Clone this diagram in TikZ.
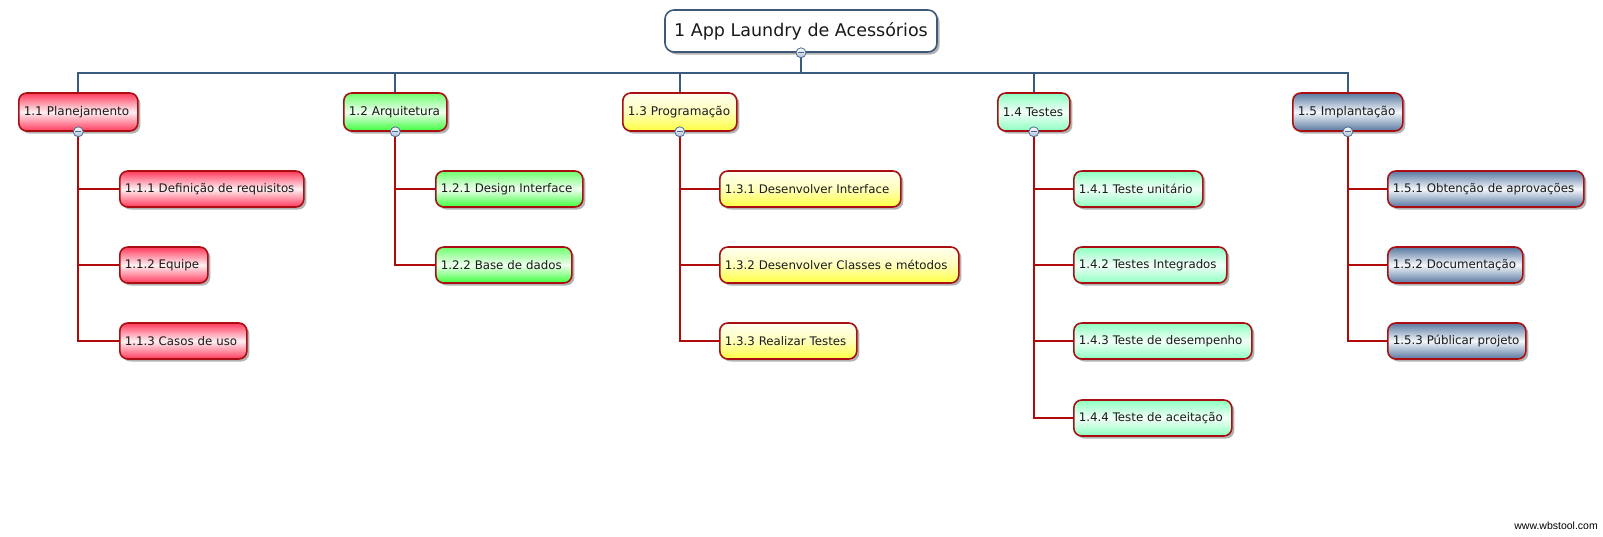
\documentclass[tikz,border=0pt]{standalone}
\usepackage{fontspec}
\setmainfont{DejaVu Sans}
\newfontfamily\wmfont{Liberation Sans}
\usetikzlibrary{shadows}
\definecolor{bord}{HTML}{A80E12}
\definecolor{rootb}{HTML}{3E5878}
\definecolor{busc}{HTML}{3B5A80}
\definecolor{linkc}{HTML}{B00A0A}
\definecolor{togb}{HTML}{4A6A90}
\definecolor{togc}{HTML}{A8BCD8}
\definecolor{txt}{HTML}{1A1A1A}
\definecolor{cR}{HTML}{FF3A5C}
\definecolor{cRm}{HTML}{FFF0F2}
\definecolor{cG}{HTML}{3CFF3C}
\definecolor{cGm}{HTML}{EFFFEF}
\definecolor{cY}{HTML}{FFFF40}
\definecolor{cYm}{HTML}{FFFFF0}
\definecolor{cM}{HTML}{8CFFC0}
\definecolor{cMm}{HTML}{F2FFF8}
\definecolor{cB}{HTML}{5878A0}
\definecolor{cBm}{HTML}{F4F7FB}
\tikzset{
  x=1pt, y=-1pt,
  basebox/.style={draw=bord, line width=1.6pt, rounded corners=8pt, anchor=west,
    inner xsep=5pt, inner ysep=0pt, align=left, text=txt,
    drop shadow={shadow xshift=2.5pt, shadow yshift=-2.5pt, opacity=0.3, fill=black}},
  lvone/.style={basebox, minimum height=38pt, font=\fontsize{12}{14}\selectfont},
  lvtwo/.style={basebox, minimum height=36pt, font=\fontsize{11.8}{14}\selectfont},
  rootbox/.style={draw=rootb, line width=1.6pt, rounded corners=9pt, fill=white,
    minimum width=272pt, minimum height=42pt, inner sep=0pt, text=txt,
    font=\fontsize{17.5}{20}\selectfont,
    drop shadow={shadow xshift=2.5pt, shadow yshift=-2.5pt, opacity=0.3, fill=black}},
  fillR/.style={top color=cR, bottom color=cR, middle color=cRm},
  fillG/.style={top color=cG!75!white, bottom color=cG, middle color=cGm},
  fillY/.style={top color=cYm, bottom color=cY, middle color=cYm!70!cY},
  fillM/.style={top color=cM, bottom color=cM, middle color=cMm},
  fillB/.style={top color=cB, bottom color=cB, middle color=cBm},
  bus/.style={draw=busc, line width=1.8pt},
  link/.style={draw=linkc, line width=1.8pt},
  tog/.style={circle, draw=togb, line width=0.8pt, inner sep=0pt, minimum size=10pt,
    top color=white, bottom color=togc,
    path picture={\draw[togb, line width=1.1pt]
      ([xshift=-3pt]path picture bounding box.center) --
      ([xshift=3pt]path picture bounding box.center);}},
}
\begin{document}
\begin{tikzpicture}
\useasboundingbox (0,0) rectangle (1603,536);
% root
\node[rootbox] (root) at (801,31) {1 App Laundry de Acessórios};
% level 1
\node[lvone, fillR, text width=109pt] (a) at (18,112) {1.1 Planejamento};
\node[lvone, fillG, text width=93pt]  (b) at (343,112) {1.2 Arquitetura};
\node[lvone, fillY, text width=104pt] (c) at (622,112) {1.3 Programação};
\node[lvone, fillM, text width=62pt]  (d) at (997,112) {1.4 Testes};
\node[lvone, fillB, text width=100pt] (e) at (1292,112) {1.5 Implantação};
% level 2
\node[lvtwo, fillR, text width=174pt] (a1) at (119,189) {1.1.1 Definição de requisitos};
\node[lvtwo, fillR, text width=78pt]  (a2) at (119,265) {1.1.2 Equipe};
\node[lvtwo, fillR, text width=117pt] (a3) at (119,341) {1.1.3 Casos de uso};
\node[lvtwo, fillG, text width=137pt] (b1) at (435,189) {1.2.1 Design Interface};
\node[lvtwo, fillG, text width=126pt] (b2) at (435,265) {1.2.2 Base de dados};
\node[lvtwo, fillY, text width=171pt] (c1) at (719,189) {1.3.1 Desenvolver Interface};
\node[lvtwo, fillY, text width=229pt] (c2) at (719,265) {1.3.2 Desenvolver Classes e métodos};
\node[lvtwo, fillY, text width=127pt] (c3) at (719,341) {1.3.3 Realizar Testes};
\node[lvtwo, fillM, text width=119pt] (d1) at (1073,189) {1.4.1 Teste unitário};
\node[lvtwo, fillM, text width=143pt] (d2) at (1073,265) {1.4.2 Testes Integrados};
\node[lvtwo, fillM, text width=168pt] (d3) at (1073,341) {1.4.3 Teste de desempenho};
\node[lvtwo, fillM, text width=148pt] (d4) at (1073,418) {1.4.4 Teste de aceitação};
\node[lvtwo, fillB, text width=186pt] (e1) at (1387,189) {1.5.1 Obtenção de aprovações};
\node[lvtwo, fillB, text width=125pt] (e2) at (1387,265) {1.5.2 Documentação};
\node[lvtwo, fillB, text width=128pt] (e3) at (1387,341) {1.5.3 Públicar projeto};
% connectors
\foreach \n in {a,b,c,d,e}
  \draw[bus] (root.south) -- ++(0,20) -| (\n.north);
\foreach \p/\cs in {a/{a1,a2,a3}, b/{b1,b2}, c/{c1,c2,c3}, d/{d1,d2,d3,d4}, e/{e1,e2,e3}}
  \foreach \ch in \cs
    \draw[link] (\p.south) |- (\ch.west);
% toggles
\node[tog] (troot) at (root.south) {};
\foreach \n in {a,b,c,d,e}
  \node[tog] (t\n) at (\n.south) {};
% watermark
\node[anchor=east, inner sep=0pt, font=\wmfont\fontsize{10.5}{12}\selectfont, text=black] (wm) at (1598,526) {www.wbstool.com};
\end{tikzpicture}
\end{document}
